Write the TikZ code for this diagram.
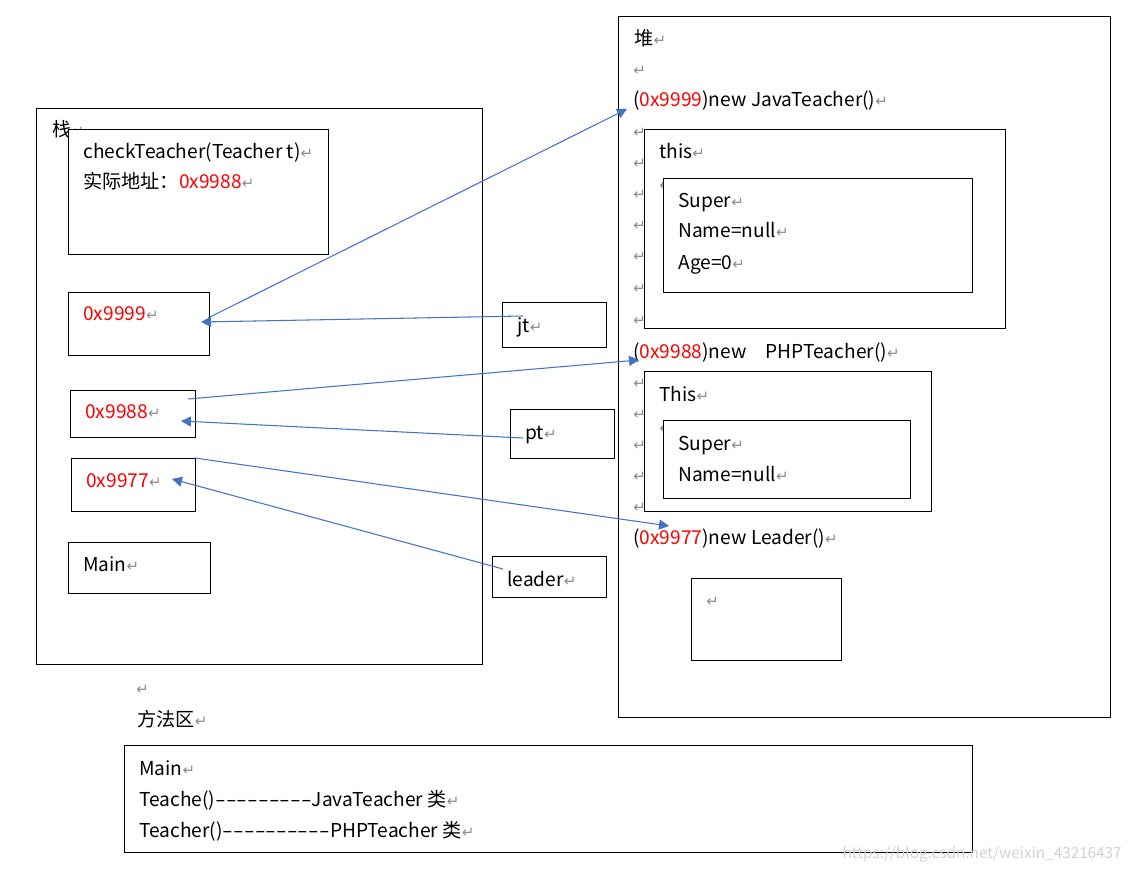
\documentclass[tikz,border=0pt]{standalone}
\usepackage{fontspec}
\usepackage{xcolor}
\usepackage{graphicx}
\usetikzlibrary{arrows.meta, positioning}
\newfontfamily\cjkfont{Noto Sans CJK SC}
\newfontfamily\markfont{DejaVu Sans}
\definecolor{ptrblue}{HTML}{4472C4}
\definecolor{markgray}{HTML}{8C8C8C}
\newcommand{\retmark}{{\color{markgray}\markfont\fontsize{8.5}{9}\selectfont ↵}}
\newcommand{\wdash}{\makebox[0.56em]{\scalebox{1.6}[1]{-}}}

\begin{document}
\begin{tikzpicture}[x=0.02cm, y=-0.02cm,
    box/.style={rectangle, draw, line width=0.6pt, fill=white, inner sep=0pt, anchor=north west},
    txt/.style={anchor=base west, inner sep=0pt, font=\cjkfont\fontsize{10.9}{12}\selectfont},
    ptr/.style={draw=ptrblue, line width=0.6pt, -{Triangle[length=2mm, width=2mm]}}
]
\useasboundingbox (0,0) rectangle (1132,871);

% stack
\node[box, minimum width=8.92cm, minimum height=11.12cm] (stack) at (36,108) {};
\node[txt] (stacklbl) at (52,137) {栈\retmark};
\node[box, minimum width=5.2cm, minimum height=2.5cm] (checkbox) at (68,129) {};
\node[txt] (checkline) at (83,159) {checkTeacher(Teacher t)\retmark};
\node[txt] (addrline) at (83,189) {实际地址：\textcolor{red}{0x9988}\retmark};

\node[box, minimum width=2.82cm, minimum height=1.26cm] (box9999) at (68,292) {};
\node[txt] (ref9999) at (83,321) {\textcolor{red}{0x9999}\retmark};
\node[box, minimum width=2.5cm, minimum height=0.94cm] (box9988) at (70,390) {};
\node[txt] (ref9988) at (85,418) {\textcolor{red}{0x9988}\retmark};
\node[box, minimum width=2.48cm, minimum height=1.06cm] (box9977) at (71,458) {};
\node[txt] (ref9977) at (86,487) {\textcolor{red}{0x9977}\retmark};
\node[box, minimum width=2.84cm, minimum height=1.02cm] (mainbox) at (68,542) {};
\node[txt] (mainlbl) at (83,571) {Main\retmark};

% variables
\node[box, minimum width=2.08cm, minimum height=0.9cm] (jtbox) at (502,302) {};
\node[txt] (jtlbl) at (517,333) {jt\retmark};
\node[box, minimum width=2.08cm, minimum height=0.98cm] (ptbox) at (510,409) {};
\node[txt] (ptlbl) at (525,439) {pt\retmark};
\node[box, minimum width=2.28cm, minimum height=0.82cm] (leaderbox) at (492,556) {};
\node[txt] (leaderlbl) at (507,586) {leader\retmark};

% heap
\node[box, minimum width=9.84cm, minimum height=14.02cm] (heap) at (618,16) {};
\foreach \y in {70,132,163,194,225,256,288,320,382,413,444,475,506}
  \node[txt] (mark\y) at (633,\y+6) {\retmark};
\node[txt] (heaplbl) at (634,46) {堆\retmark};
\node[txt] (javaline) at (633,107) {(\textcolor{red}{0x9999})new JavaTeacher()\retmark};
\node[box, minimum width=7.22cm, minimum height=3.98cm] (thisjava) at (644,129) {};
\node[txt] (thisjavalbl) at (659,159) {this\retmark};
\node[txt] (markjava) at (659,191) {\retmark};
\node[box, minimum width=6.18cm, minimum height=2.28cm] (superjava) at (663,178) {};
\node[txt] (superjavalbl) at (678,208) {Super\retmark};
\node[txt] (namejava) at (678,238) {Name=null\retmark};
\node[txt] (agejava) at (678,270) {Age=0\retmark};

\node[txt] (phpline) at (633,358) {(\textcolor{red}{0x9988})new\hspace{1em}PHPTeacher()\retmark};
\node[box, minimum width=5.74cm, minimum height=2.8cm] (thisphp) at (644,371) {};
\node[txt] (thisphplbl) at (659,401) {This\retmark};
\node[txt] (markphp) at (659,433) {\retmark};
\node[box, minimum width=4.94cm, minimum height=1.56cm] (superphp) at (663,420) {};
\node[txt] (superphplbl) at (678,450) {Super\retmark};
\node[txt] (namephp) at (678,481) {Name=null\retmark};

\node[txt] (leaderline) at (633,544) {(\textcolor{red}{0x9977})new Leader()\retmark};
\node[box, minimum width=3cm, minimum height=1.64cm] (leaderobj) at (691,578) {};
\node[txt] (leaderobjmark) at (706,606) {\retmark};

% method area
\node[txt] (gapmark) at (136,694) {\retmark};
\node[txt] (methodlbl) at (137,726) {方法区\retmark};
\node[box, minimum width=16.96cm, minimum height=2.14cm] (methodarea) at (124,745) {};
\node[txt] (methodmain) at (139,775) {Main\retmark};
\node[txt] (methodjava) at (139,806) {Teache()\wdash\wdash\wdash\wdash\wdash\wdash\wdash\wdash\wdash JavaTeacher 类\retmark};
\node[txt] (methodphp) at (139,837) {Teacher()\wdash\wdash\wdash\wdash\wdash\wdash\wdash\wdash\wdash\wdash PHPTeacher 类\retmark};

\node[anchor=base east, inner sep=0pt, font=\cjkfont\fontsize{8.7}{10}\selectfont, text=gray!35] (watermark) at (1122,858) {https://blog.csdn.net/weixin\_43216437};

% pointers
\coordinate (jtfrom) at (523,316);
\coordinate (tip9999) at (201,322);
\coordinate (from9999) at (208,318);
\coordinate (tipjava) at (627,109);
\coordinate (from9988) at (188,399);
\coordinate (tipphp) at (639,360);
\coordinate (ptfrom) at (523,438);
\coordinate (tip9988) at (181,421);
\coordinate (from9977) at (195,458);
\coordinate (tipleader) at (669,526);
\coordinate (leaderfrom) at (503,569);
\coordinate (tip9977) at (172,479);

\draw[ptr] (jtfrom) -- (tip9999);
\draw[ptr] (from9999) -- (tipjava);
\draw[ptr] (from9988) -- (tipphp);
\draw[ptr] (ptfrom) -- (tip9988);
\draw[ptr] (from9977) -- (tipleader);
\draw[ptr] (leaderfrom) -- (tip9977);
\end{tikzpicture}
\end{document}
